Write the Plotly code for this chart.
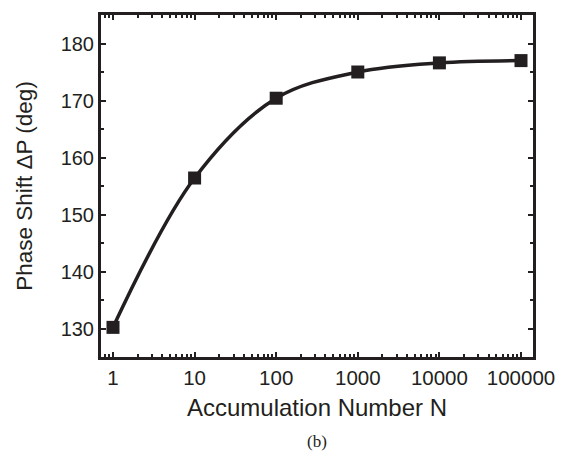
import plotly.graph_objects as go

N = [1, 10, 100, 1000, 10000, 100000]
phase = [130.2, 156.4, 170.4, 175.0, 176.6, 177.0]
xticks = [1, 10, 100, 1000, 10000, 100000]
xlabels = ["1", "10", "100", "1000", "10000", "100000"]
yticks = [130, 140, 150, 160, 170, 180]

INK = "#231f20"
SANS = "Liberation Sans, Arial"

fig = go.Figure()
fig.add_trace(go.Scatter(
    x=N, y=phase, mode="lines+markers",
    line=dict(color=INK, width=3.5, shape="spline", smoothing=1.0),
    marker=dict(symbol="square", size=13, color=INK),
    showlegend=False,
))

axis_common = dict(
    showline=True, linecolor=INK, linewidth=3, mirror="ticks",
    ticks="inside", ticklen=5, tickwidth=2, tickcolor=INK,
    showgrid=False, zeroline=False,
)

fig.update_xaxes(
    type="log", range=[-0.147, 5.147],
    tickvals=xticks, ticktext=xlabels,
    tickfont=dict(family=SANS, size=20.5, color=INK),
    title=dict(text="Accumulation Number N", font=dict(family=SANS, size=24, color=INK), standoff=12),
    minor=dict(ticks="inside", ticklen=3, tickwidth=1.5, tickcolor=INK, dtick="D1", showgrid=False),
    **axis_common,
)
fig.update_yaxes(
    range=[125, 185], tickvals=yticks,
    tickfont=dict(family=SANS, size=20, color=INK),
    title=dict(text="Phase Shift ΔP (deg)", font=dict(family=SANS, size=22.5, color=INK), standoff=22),
    minor=dict(ticks="inside", ticklen=3, tickwidth=1.5, tickcolor=INK, dtick=5, showgrid=False),
    **axis_common,
)

fig.add_annotation(
    text="(b)", xref="paper", yref="paper", x=0.5, y=-0.248,
    showarrow=False, font=dict(family="Liberation Serif, Times New Roman", size=17, color=INK),
    yanchor="middle",
)

fig.update_layout(
    width=567, height=453,
    margin=dict(l=101, r=33, t=12, b=96),
    paper_bgcolor="white", plot_bgcolor="white",
)

fig.write_html("out.html")
